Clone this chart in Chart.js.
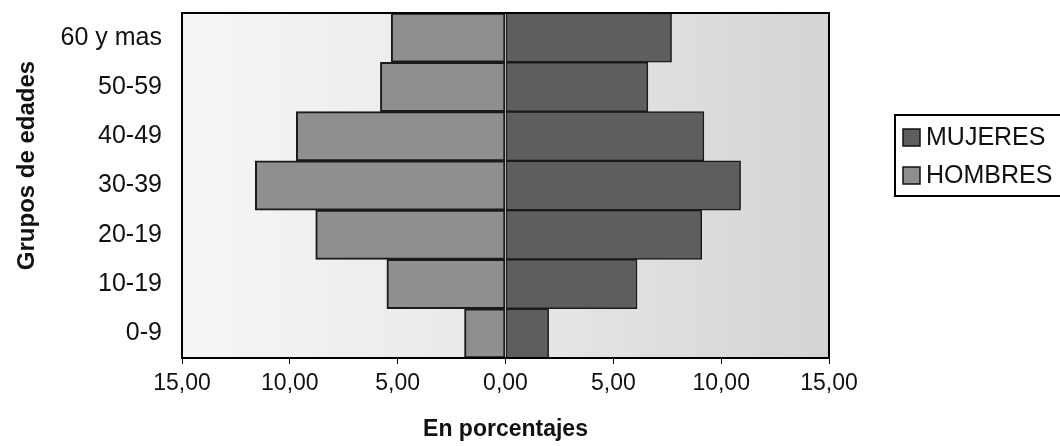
<!DOCTYPE html>
<html>
<head>
<meta charset="utf-8">
<script src="https://cdn.jsdelivr.net/npm/chart.js@4/dist/chart.umd.min.js"></script>
<style>
  body { margin: 0; background: #fff; }
  #wrap { width: 1060px; height: 446px; }
</style>
</head>
<body>
<div id="wrap"><canvas id="pyramid" width="1060" height="446"></canvas></div>
<script>
// grupos de edades, de arriba hacia abajo
var grupos = ['60 y mas', '50-59', '40-49', '30-39', '20-19', '10-19', '0-9'];
// porcentajes
var hombres = [5.3, 5.8, 9.7, 11.6, 8.8, 5.5, 1.9];
var mujeres = [7.7, 6.6, 9.2, 10.9, 9.1, 6.1, 2.0];
var ejeX = [-15, -10, -5, 0, 5, 10, 15];

var FONT = 'Liberation Sans, Arial, sans-serif';

// hombres van a la izquierda (negativos)
var hombresIzq = hombres.map(function (v) { return -v; });

function fmt(v) {
    return Math.abs(v).toFixed(2).replace('.', ',');
}

// fondo del area y marco negro
var plotFrame = {
    id: 'plotFrame',
    beforeDatasetsDraw: function (chart) {
        var a = chart.chartArea, c = chart.ctx;
        var g = c.createLinearGradient(a.left, 0, a.right, 0);
        g.addColorStop(0, '#f6f6f6');
        g.addColorStop(0.5, '#e8e8e8');
        g.addColorStop(1, '#d4d4d4');
        c.save();
        c.fillStyle = g;
        c.fillRect(a.left, a.top, a.right - a.left, a.bottom - a.top);
        c.restore();
    },
    afterDatasetsDraw: function (chart) {
        var a = chart.chartArea, c = chart.ctx;
        c.save();
        c.strokeStyle = '#000';
        c.lineWidth = 2;
        c.strokeRect(a.left, a.top, a.right - a.left, a.bottom - a.top);
        c.restore();
    }
};

// leyenda con marco, a la derecha
var boxLegend = {
    id: 'boxLegend',
    afterDraw: function (chart) {
        var c = chart.ctx;
        var x = 895, y = 115, w = 175, h = 81;
        var order = [1, 0]; // MUJERES primero
        c.save();
        c.fillStyle = '#fff';
        c.fillRect(x, y, w, h);
        c.strokeStyle = '#000';
        c.lineWidth = 2;
        c.strokeRect(x, y, w, h);
        c.font = '25px ' + FONT;
        c.textBaseline = 'middle';
        for (var i = 0; i < order.length; i++) {
            var ds = chart.data.datasets[order[i]];
            var cy = 137 + i * 38;
            c.fillStyle = ds.backgroundColor;
            c.fillRect(903, cy - 8, 17, 17);
            c.strokeStyle = '#111';
            c.lineWidth = 1.5;
            c.strokeRect(903, cy - 8, 17, 17);
            c.fillStyle = '#111';
            c.fillText(ds.label, 926, cy + 1);
        }
        c.restore();
    }
};

var ctx = document.getElementById('pyramid').getContext('2d');
var chart = new Chart(ctx, {
    type: 'bar',
    data: {
        labels: grupos,
        datasets: [
            {
                label: 'HOMBRES',
                data: hombresIzq,
                backgroundColor: '#8f8f8f',
                borderColor: '#1a1a1a',
                borderWidth: 2,
                borderSkipped: false,
                barPercentage: 1,
                categoryPercentage: 1
            },
            {
                label: 'MUJERES',
                data: mujeres,
                backgroundColor: '#5e5e5e',
                borderColor: '#1a1a1a',
                borderWidth: 1.5,
                borderSkipped: false,
                barPercentage: 1,
                categoryPercentage: 1
            }
        ]
    },
    options: {
        indexAxis: 'y',
        responsive: false,
        animation: false,
        devicePixelRatio: 1,
        layout: { padding: { top: 13, right: 231, left: 0, bottom: 0 } },
        plugins: {
            legend: { display: false },
            tooltip: { enabled: false }
        },
        scales: {
            x: {
                stacked: true,
                min: ejeX[0],
                max: ejeX[ejeX.length - 1],
                afterBuildTicks: function (scale) {
                    scale.ticks = ejeX.map(function (v) { return { value: v }; });
                },
                afterFit: function (scale) { scale.height = 88; },
                grid: { drawOnChartArea: false, drawTicks: true, tickLength: 6, color: '#000' },
                border: { display: true, color: '#000', width: 2 },
                ticks: {
                    callback: function (v) { return fmt(v); },
                    color: '#111',
                    padding: 6,
                    maxRotation: 0,
                    font: { family: FONT, size: 23 }
                },
                title: {
                    display: true,
                    text: 'En porcentajes',
                    color: '#111',
                    padding: { top: 0, bottom: 3 },
                    font: { family: FONT, size: 23, weight: 'bold' }
                }
            },
            y: {
                stacked: true,
                afterFit: function (scale) {
                    scale.width = 182;
                    scale.paddingTop = 0;
                    scale.paddingBottom = 0;
                },
                grid: { display: false, drawTicks: false },
                border: { display: true, color: '#000', width: 2 },
                ticks: {
                    color: '#111',
                    padding: 20,
                    font: { family: FONT, size: 25 }
                },
                title: {
                    display: true,
                    // espacios delante para subir el titulo como en el original
                    text: '\u00a0\u00a0\u00a0\u00a0\u00a0\u00a0Grupos de edades',
                    color: '#111',
                    padding: { top: 13, bottom: 0 },
                    font: { family: FONT, size: 24, weight: 'bold' }
                }
            }
        }
    },
    plugins: [plotFrame, boxLegend]
});
</script>
</body>
</html>
